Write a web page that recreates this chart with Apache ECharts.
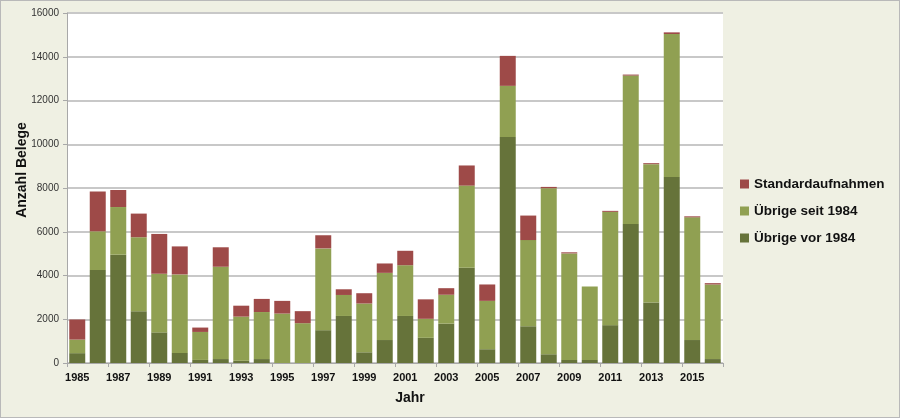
<!DOCTYPE html>
<html>
<head>
<meta charset="utf-8">
<script src="https://cdn.jsdelivr.net/npm/echarts@6/dist/echarts.min.js"></script>
<style>
html, body { margin: 0; padding: 0; background: #eff0e3; }
#chart { width: 898px; height: 416px; border: 1px solid #b9b9b9; }
</style>
</head>
<body>
<div id="chart"></div>
<script>
var years = ['1985','1986','1987','1988','1989','1990','1991','1992','1993','1994','1995','1996',
    '1997','1998','1999','2000','2001','2002','2003','2004','2005','2006','2007','2008',
    '2009','2010','2011','2012','2013','2014','2015','2016'];
var vor1984 = [450,4250,4950,2370,1400,460,140,180,100,180,0,0,
    1500,2150,490,1050,2150,1150,1800,4350,630,10330,1680,400,
    140,140,1730,6360,2770,8500,1050,180];
var seit1984 = [620,1770,2180,3380,2680,3590,1280,4220,2020,2150,2260,1820,
    3740,960,2230,3070,2320,870,1320,3760,2210,2340,3940,7590,
    4870,3360,5180,6780,6320,6540,5610,3410];
var standard = [920,1820,780,1080,1820,1280,200,890,500,600,580,550,
    600,260,470,430,660,890,300,920,750,1370,1120,60,
    50,0,45,45,45,75,45,60];
var yTicks = [0,2000,4000,6000,8000,10000,12000,14000,16000];

var colDark = '#66733a';
var colLight = '#90a052';
var colRed = '#9e4a48';

var myChart = echarts.init(document.getElementById('chart'));
var option = {
    backgroundColor: '#eff0e3',
    animation: false,
    textStyle: { fontFamily: 'Liberation Sans' },
    grid: {
        left: 66,
        right: 176,
        top: 12,
        bottom: 54,
        outerBoundsMode: 'none',
        show: true,
        backgroundColor: '#ffffff',
        borderWidth: 0
    },
    // y axis title placed by hand, like the original
    graphic: [{
        type: 'text',
        x: 21,
        y: 169,
        rotation: Math.PI / 2,
        style: {
            text: 'Anzahl Belege',
            align: 'center',
            verticalAlign: 'middle',
            font: 'bold 14px "Liberation Sans"',
            fill: '#111'
        }
    }],
    legend: {
        orient: 'vertical',
        left: 734,
        top: 171,
        itemWidth: 9,
        itemHeight: 9,
        itemGap: 13,
        icon: 'rect',
        data: ['Standardaufnahmen', 'Übrige seit 1984', 'Übrige vor 1984'],
        textStyle: { fontSize: 13.5, fontWeight: 'bold', color: '#111', fontFamily: 'Liberation Sans' }
    },
    xAxis: {
        type: 'category',
        data: years,
        name: 'Jahr',
        nameLocation: 'middle',
        nameGap: 28,
        nameTextStyle: { fontSize: 14, fontWeight: 'bold', color: '#111', padding: [0, 0, 0, 30] },
        axisLine: { lineStyle: { color: '#a8a8a8', width: 1 } },
        axisTick: { show: true, alignWithLabel: false, length: 4, lineStyle: { color: '#a8a8a8' } },
        axisLabel: { interval: 1, fontSize: 11, fontWeight: 'bold', color: '#111', margin: 9 }
    },
    yAxis: {
        type: 'value',
        min: 0,
        max: 16000,
        interval: 2000,
        axisLine: { show: true, lineStyle: { color: '#a8a8a8' } },
        axisTick: { show: true, length: 4, lineStyle: { color: '#a8a8a8' } },
        axisLabel: {
            fontSize: 10, color: '#333', margin: 8,
            formatter: function (v) { return yTicks.indexOf(v) >= 0 ? String(v) : ''; }
        },
        splitLine: { lineStyle: { color: '#c8c8c8', width: 2 } }
    },
    series: [
        {
            name: 'Übrige vor 1984',
            type: 'bar',
            stack: 'total',
            barCategoryGap: '22%',
            data: vor1984,
            itemStyle: { color: colDark }
        },
        {
            name: 'Übrige seit 1984',
            type: 'bar',
            stack: 'total',
            data: seit1984,
            itemStyle: { color: colLight }
        },
        {
            name: 'Standardaufnahmen',
            type: 'bar',
            stack: 'total',
            data: standard,
            itemStyle: { color: colRed }
        }
    ]
};
myChart.setOption(option);
</script>
</body>
</html>
